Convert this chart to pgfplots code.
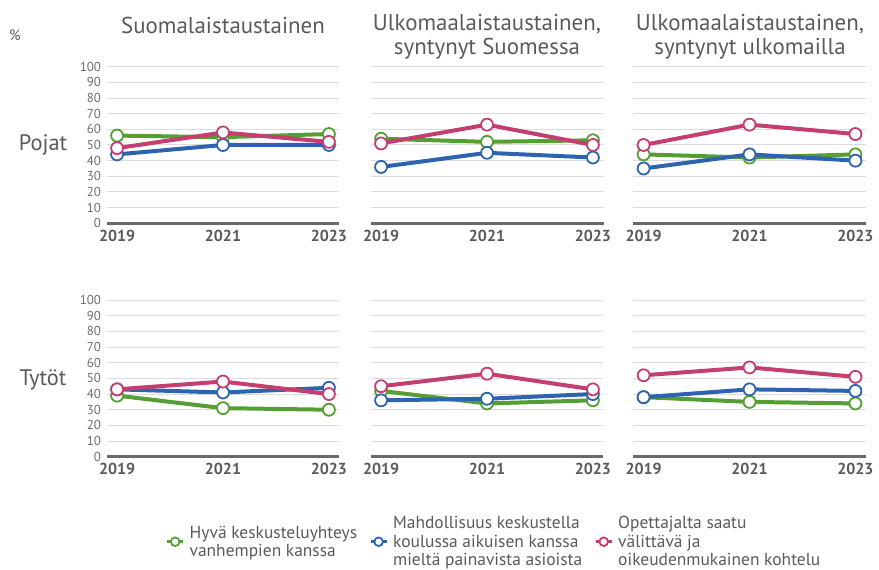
\documentclass[border=0pt]{standalone}
\usepackage{fontspec}
\setmainfont{PT Sans}
\usepackage{pgfplots}
\pgfplotsset{compat=1.18}
\definecolor{cG}{RGB}{84,158,51}
\definecolor{cB}{RGB}{46,99,175}
\definecolor{cP}{RGB}{196,62,114}
\definecolor{gridc}{RGB}{220,220,222}
\definecolor{axc}{RGB}{105,105,105}
\definecolor{txt}{RGB}{90,90,90}
\definecolor{tick}{RGB}{110,110,110}
\pgfplotsset{
  panel/.style={
    scale only axis, width=233bp, height=156.6bp,
    xmin=2018.8, xmax=2023.2, ymin=0, ymax=100,
    xtick={2019,2021,2023}, xticklabels={2019,2021,2023},
    ytick={0,10,...,100},
    axis lines*=left,
    y axis line style={draw=none},
    x axis line style={draw=axc, line width=2.6bp},
    major tick length=0pt,
    ymajorgrids, grid style={draw=gridc, line width=1bp},
    xticklabel style={font=\fontsize{16}{16}\selectfont\bfseries, text=txt, yshift=-3bp},
    yticklabel style={font=\fontsize{13}{13}\selectfont, text=tick, xshift=-2bp},
    /pgf/number format/assume math mode=true,
    every axis plot/.append style={line width=4bp, mark=*, mark size=6bp,
       mark options={fill=white, line width=1.8bp}},
    clip=false,
  },
  noy/.style={yticklabels={}},
  sG/.style={color=cG}, sB/.style={color=cB}, sP/.style={color=cP},
}
\begin{document}
\begin{tikzpicture}
\useasboundingbox (0,0) rectangle (879bp,570bp);
\node[text=txt, font=\fontsize{15}{15}\selectfont] at (15bp,535bp) {\%};
\node[text=txt, font=\fontsize{23}{23}\selectfont] at (223bp,545bp) {Suomalaistaustainen};
\node[text=txt, font=\fontsize{23}{24.5}\selectfont, align=center] at (487bp,533bp) {Ulkomaalaistaustainen,\\ syntynyt Suomessa};
\node[text=txt, font=\fontsize{23}{24.5}\selectfont, align=center] at (750bp,533bp) {Ulkomaalaistaustainen,\\ syntynyt ulkomailla};
\node[text=txt, font=\fontsize{22.5}{22.5}\selectfont] at (43bp,425bp) {Pojat};
\node[text=txt, font=\fontsize{22.5}{22.5}\selectfont] at (43bp,190bp) {Tytöt};

% top row
\begin{axis}[panel, at={(106.5bp,346.7bp)}, anchor=south west]
\addplot[sG] coordinates {(2019,56) (2021,55) (2023,57)};
\addplot[sB] coordinates {(2019,44) (2021,50) (2023,50)};
\addplot[sP] coordinates {(2019,48) (2021,58) (2023,52)};
\end{axis}
\begin{axis}[panel, noy, at={(370.5bp,346.7bp)}, anchor=south west]
\addplot[sG] coordinates {(2019,54) (2021,52) (2023,53)};
\addplot[sB] coordinates {(2019,36) (2021,45) (2023,42)};
\addplot[sP] coordinates {(2019,51) (2021,63) (2023,50)};
\end{axis}
\begin{axis}[panel, noy, at={(633bp,346.7bp)}, anchor=south west]
\addplot[sG] coordinates {(2019,44) (2021,42) (2023,44)};
\addplot[sB] coordinates {(2019,35) (2021,44) (2023,40)};
\addplot[sP] coordinates {(2019,50) (2021,63) (2023,57)};
\end{axis}
% bottom row
\begin{axis}[panel, at={(106.5bp,113.3bp)}, anchor=south west]
\addplot[sG] coordinates {(2019,39) (2021,31) (2023,30)};
\addplot[sB] coordinates {(2019,43) (2021,41) (2023,44)};
\addplot[sP] coordinates {(2019,43) (2021,48) (2023,40)};
\end{axis}
\begin{axis}[panel, noy, at={(370.5bp,113.3bp)}, anchor=south west,
  legend columns=3,
  legend style={draw=none, fill=none, at={(rel axis cs:0.53,-0.543)}, anchor=center,
     font=\fontsize{17.5}{18.3}\selectfont, text=txt,
     cells={align=left, anchor=west},
     /tikz/every odd column/.append style={column sep=3bp},
     /tikz/every even column/.append style={column sep=10bp}},
  legend image code/.code={\draw[#1, line width=3bp, mark=none] (0bp,0bp) -- (16bp,0bp);
     \draw[#1, mark=none, fill=white, line width=1.8bp] (8bp,0bp) circle (4.3bp);},
]
\addplot[sG] coordinates {(2019,42) (2021,34) (2023,36)};
\addplot[sB] coordinates {(2019,36) (2021,37) (2023,40)};
\addplot[sP] coordinates {(2019,45) (2021,53) (2023,43)};
\legend{Hyvä keskusteluyhteys\\vanhempien kanssa, Mahdollisuus keskustella\\koulussa aikuisen kanssa\\mieltä painavista asioista, Opettajalta saatu\\välittävä ja\\oikeudenmukainen kohtelu}
\end{axis}
\begin{axis}[panel, noy, at={(633bp,113.3bp)}, anchor=south west]
\addplot[sG] coordinates {(2019,38) (2021,35) (2023,34)};
\addplot[sB] coordinates {(2019,38) (2021,43) (2023,42)};
\addplot[sP] coordinates {(2019,52) (2021,57) (2023,51)};
\end{axis}
\end{tikzpicture}
\end{document}
